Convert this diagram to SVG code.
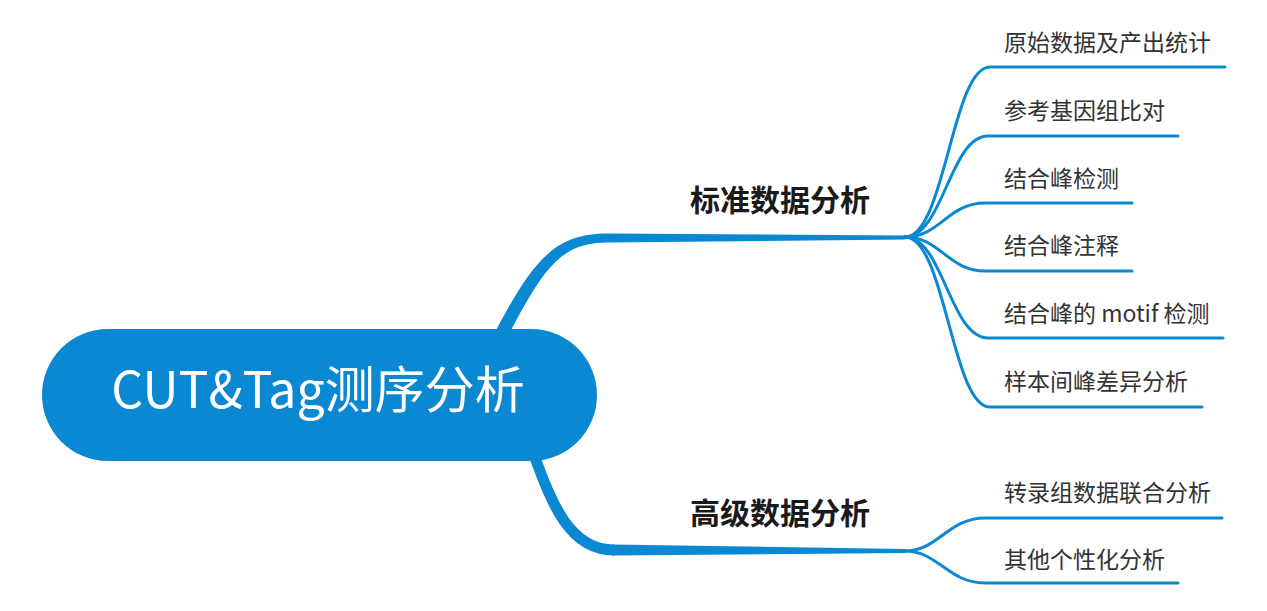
<svg xmlns="http://www.w3.org/2000/svg" width="1267" height="611" viewBox="0 0 1267 611">
<style>
.br{fill:none;stroke:#0a88d1;stroke-width:3;stroke-linecap:round}
.main{fill:#0a88d1}
.trunk{fill:none;stroke:#0a88d1;stroke-linecap:butt}
.sub{font-family:"Noto Sans CJK SC","Noto Sans",sans-serif;font-size:23px;fill:#333}
.lvl1{font-family:"Noto Sans CJK SC","Noto Sans",sans-serif;font-size:30px;font-weight:bold;fill:#1a1a1a;text-anchor:middle}
.root{font-family:"Noto Sans CJK SC","Noto Sans",sans-serif;font-size:50px;fill:#fff;text-anchor:middle}
</style>
<rect width="1267" height="611" fill="#fff"/>
<g id="connectors">
<path class="main" d="M493,336 C532,262 553,233.5 608,233.5 L905,235.5 L905,239.5 L608,242.5 C562,242.5 545,265 507,338 Z"/>
<path class="trunk" stroke-width="11" d="M533,452 C552,505 570,550 614,550"/>
<path class="main" d="M612,544.5 L905,549 L905,553 L612,555.5 Z"/>
<path class="main" d="M900,236 L912,237 L900,238.5 Z"/>
<path class="br" d="M905,237 C945,237 952,67 990,67 L1225,67"/>
<path class="br" d="M905,237 C943,237 950,136 988,136 L1178,136"/>
<path class="br" d="M905,237 C940,237 948,203 985,203 L1132,203"/>
<path class="br" d="M905,237 C940,237 948,271 985,271 L1132,271"/>
<path class="br" d="M905,237 C943,237 950,338 988,338 L1223,338"/>
<path class="br" d="M905,237 C945,237 952,407 990,407 L1202,407"/>
<path class="br" d="M905,551 C938,551 948,518 985,518 L1222,518"/>
<path class="br" d="M905,551 C938,551 948,583 985,583 L1178,583"/>
</g>
<g id="root">
<rect x="42" y="329" width="555" height="132" rx="66" ry="66" fill="#0a88d1"/>
<text class="root" x="318" y="408">CUT&amp;Tag测序分析</text>
</g>
<g id="n-standard"><text class="lvl1" x="780" y="211">标准数据分析</text></g>
<g id="n-advanced"><text class="lvl1" x="780" y="524">高级数据分析</text></g>
<g id="n1"><text class="sub" x="1004" y="51">原始数据及产出统计</text></g>
<g id="n2"><text class="sub" x="1004" y="119">参考基因组比对</text></g>
<g id="n3"><text class="sub" x="1004" y="187">结合峰检测</text></g>
<g id="n4"><text class="sub" x="1004" y="254">结合峰注释</text></g>
<g id="n5"><text class="sub" x="1004" y="322">结合峰的 motif 检测</text></g>
<g id="n6"><text class="sub" x="1004" y="390">样本间峰差异分析</text></g>
<g id="n7"><text class="sub" x="1004" y="501">转录组数据联合分析</text></g>
<g id="n8"><text class="sub" x="1004" y="568">其他个性化分析</text></g>
</svg>
